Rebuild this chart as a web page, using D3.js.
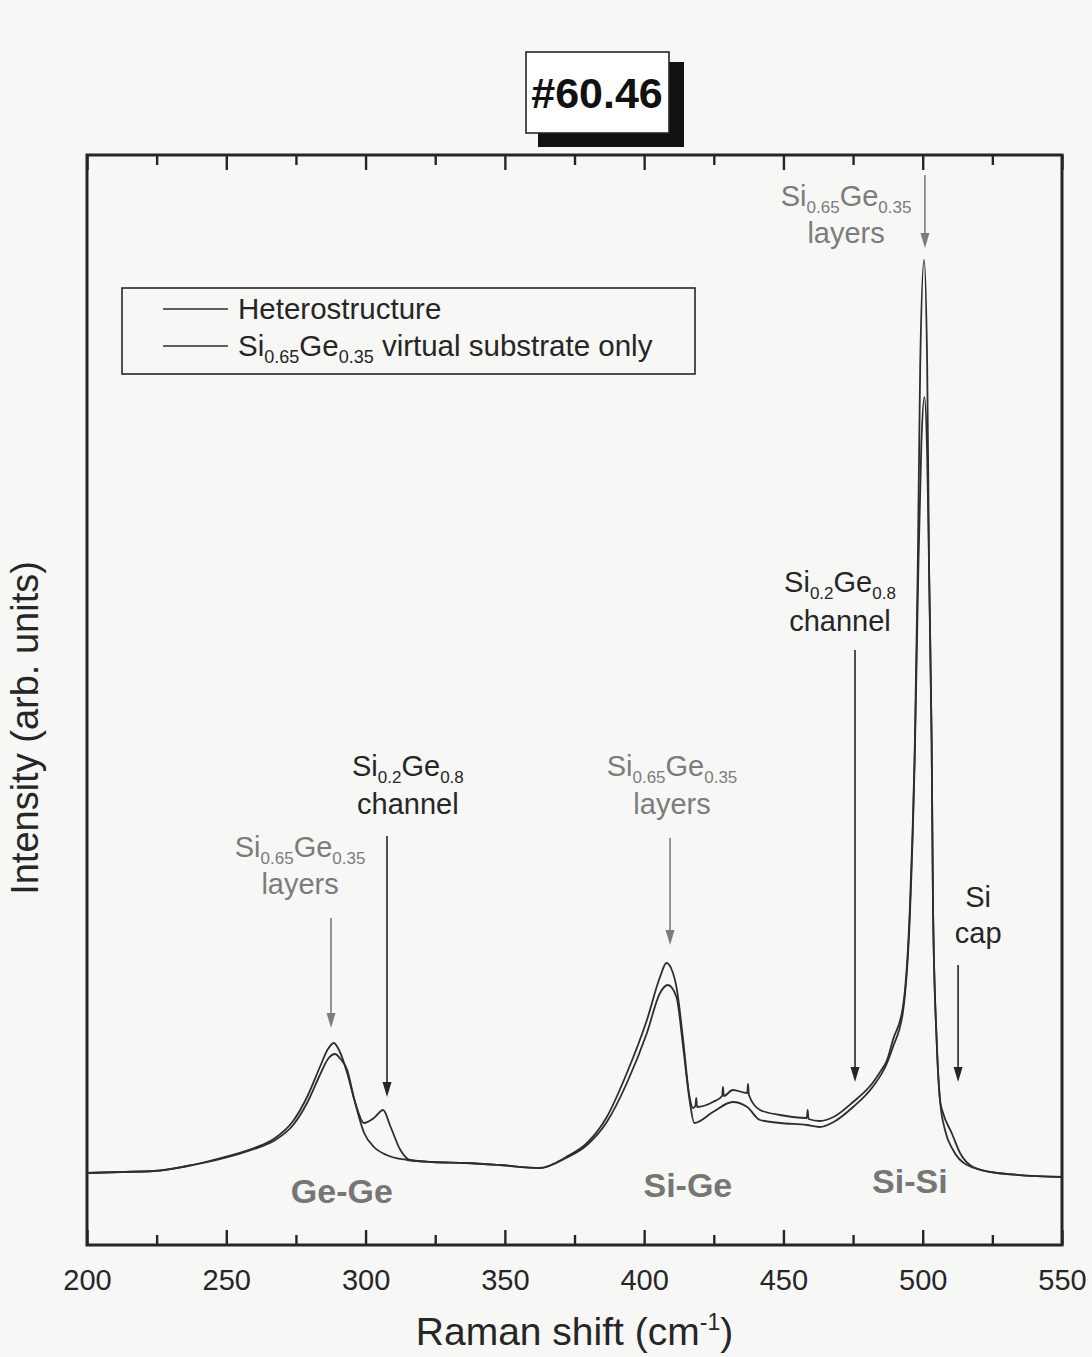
<!DOCTYPE html>
<html>
<head>
<meta charset="utf-8">
<script src="https://cdn.jsdelivr.net/npm/d3@7"></script>
<style>
  body { margin: 0; background: #f7f7f5; }
  svg { display: block; font-family: "Liberation Sans", Arial, sans-serif; }
</style>
</head>
<body>
<svg id="chart" width="1092" height="1357"></svg>
<script>
// Raman spectra (x = Raman shift cm-1, y = intensity, arb. units)
const heteroShift = [200, 212, 224, 236, 248, 260, 267, 274, 279, 283.6, 286.5, 288.6, 290.8, 293.4, 296,
  299.5, 303, 306.3, 309, 312.5, 316, 324, 336, 348, 362.5, 372, 379.5, 386.6, 393.8, 401, 405.7, 408,
  409.8, 411.6, 414, 416.3, 417.5, 418.4, 418.7, 419, 424.7, 428, 428.3, 428.6, 431.8, 437, 437.3, 437.6,
  441.6, 448.8, 458.4, 458.7, 459, 463, 468, 475, 482, 484.7, 487.2, 489.3, 492.9, 495.4, 497.2, 498.2,
  499.1, 500.5, 501.6, 502.3, 503.2, 503.7, 505, 506.2, 507.3, 510.4, 513.4, 518.1, 526.7, 550];
const heteroIntensity = [72, 73, 74, 79, 87, 97, 106, 124, 148, 178, 196, 202, 193, 172, 145,
  122, 127, 135, 118, 95, 85, 83, 82, 80, 77, 88, 102, 128, 172, 225, 268, 282,
  276, 258, 205, 148, 137, 139, 147, 138, 143, 149, 158, 149, 155, 152, 161, 150,
  135, 130, 127, 135, 126, 124, 128, 143, 162, 173, 185, 205, 238, 338, 505, 672,
  880, 985, 880, 672, 505, 338, 205, 145, 132, 112, 92, 78, 72, 68];

const substrateShift = [200, 212, 224, 236, 248, 260, 267, 274, 279, 283.6, 286.5, 289, 291, 293.4, 296,
  299.5, 303, 307.5, 315, 324, 336, 348, 362.5, 372, 379.5, 386.6, 393.8, 401, 405.7, 408.5, 411.6, 414,
  416.3, 418, 424.7, 431.8, 437, 441.6, 448.8, 458.4, 463, 468, 475, 482, 487.2, 489.3, 492.9, 495.4,
  497.2, 498.4, 499.5, 500.6, 501.6, 502.3, 503.2, 503.7, 505, 506.2, 508, 510.9, 515.9, 526.7, 550];
const substrateIntensity = [72, 73, 74, 79, 86, 96, 104, 120, 142, 170, 186, 191, 186, 175, 145,
  112, 98, 90, 85, 83, 82, 80, 77, 87, 100, 123, 162, 212, 252, 260, 248, 198,
  145, 122, 133, 143, 138, 125, 122, 120, 118, 123, 138, 158, 182, 198, 233, 330,
  495, 672, 800, 848, 790, 672, 505, 338, 205, 145, 115, 95, 80, 72, 68];

const majorTicks = [200, 250, 300, 350, 400, 450, 500, 550];
const minorTicks = [225, 275, 325, 375, 425, 475, 525];
const legendNames = ["Heterostructure", "Si0.65Ge0.35 virtual substrate only"];

// peak annotations: text lines, label centre, arrow position (x in cm-1, y in intensity)
const annotations = [
  { lines: [[["Si", 0], ["0.65", 1], ["Ge", 0], ["0.35", 1]], [["layers", 0]]], gray: true,
    lx: 276.5, ly: [388, 351], ax: 287.6, aTop: 327, aTip: 217 },
  { lines: [[["Si", 0], ["0.2", 1], ["Ge", 0], ["0.8", 1]], [["channel", 0]]], gray: false,
    lx: 315.2, ly: [469, 431], ax: 307.7, aTop: 409, aTip: 148 },
  { lines: [[["Si", 0], ["0.65", 1], ["Ge", 0], ["0.35", 1]], [["layers", 0]]], gray: true,
    lx: 410, ly: [469, 431], ax: 409.3, aTop: 407, aTip: 300 },
  { lines: [[["Si", 0], ["0.2", 1], ["Ge", 0], ["0.8", 1]], [["channel", 0]]], gray: false,
    lx: 470.3, ly: [653, 614], ax: 475.7, aTop: 595, aTip: 163 },
  { lines: [[["Si", 0], ["0.65", 1], ["Ge", 0], ["0.35", 1]], [["layers", 0]]], gray: true,
    lx: 472.5, ly: [1039, 1002], ax: 500.8, aTop: 1070, aTip: 997 },
  { lines: [[["Si", 0]], [["cap", 0]]], gray: false,
    lx: 519.9, ly: [338, 302], ax: 512.7, aTop: 280, aTip: 163 }
];
const bondLabels = ["Ge-Ge", "Si-Ge", "Si-Si"];
const bondX = [291.5, 415.7, 495.4];
const bondY = [42, 48, 52];

const svg = d3.select("#chart"),
    width = +svg.attr("width"),
    height = +svg.attr("height");
const margin = { top: 155, right: 30, bottom: 112, left: 87 };

const x = d3.scaleLinear().domain([200, 550]).range([margin.left, width - margin.right]);
const y = d3.scaleLinear().domain([0, 1090]).range([height - margin.bottom, margin.top]);

const ink = "#262626", gray = "#7c7c7c";

svg.append("rect").attr("width", width).attr("height", height).attr("fill", "#f7f7f5");

// ticks, bottom and top, pointing inwards
function tickAxis(axis, vals, len, labels) {
    return axis.tickValues(vals).tickSize(-len).tickPadding(24)
        .tickFormat(labels ? d3.format("d") : "");
}
const gB = svg.append("g").attr("transform", "translate(0," + (height - margin.bottom) + ")");
gB.call(tickAxis(d3.axisBottom(x), majorTicks, 15, true));
gB.append("g").call(tickAxis(d3.axisBottom(x), minorTicks, 10, false));
const gT = svg.append("g").attr("transform", "translate(0," + margin.top + ")");
gT.call(tickAxis(d3.axisTop(x), majorTicks, 15, false));
gT.append("g").call(tickAxis(d3.axisTop(x), minorTicks, 10, false));
svg.selectAll(".domain").remove();
svg.selectAll(".tick line").attr("stroke", ink).attr("stroke-width", 2.4);
gB.selectAll(".tick text").attr("fill", ink).style("font-size", "29px");

// frame
svg.append("rect")
    .attr("x", margin.left).attr("y", margin.top)
    .attr("width", width - margin.left - margin.right)
    .attr("height", height - margin.top - margin.bottom)
    .attr("fill", "none").attr("stroke", ink).attr("stroke-width", 3);

// axis titles
const xt = svg.append("text")
    .attr("x", (margin.left + width - margin.right) / 2).attr("y", 1345)
    .attr("text-anchor", "middle").attr("fill", ink).style("font-size", "39px");
xt.append("tspan").text("Raman shift (cm");
xt.append("tspan").attr("dy", -15).style("font-size", "23px").text("-1");
xt.append("tspan").attr("dy", 15).text(")");

svg.append("text")
    .attr("transform", "translate(38,728) rotate(-90)")
    .attr("text-anchor", "middle").attr("fill", ink).style("font-size", "38px")
    .text("Intensity (arb. units)");

// spectra
const line = d3.line().x(d => x(d[0])).y(d => y(d[1])).curve(d3.curveMonotoneX);
const series = [
    d3.zip(heteroShift, heteroIntensity),
    d3.zip(substrateShift, substrateIntensity)
];
svg.append("g").selectAll("path")
    .data(series)
    .enter()
    .append("path")
    .attr("d", line)
    .attr("fill", "none")
    .attr("stroke", "#2e2e2e")
    .attr("stroke-width", 1.8)
    .attr("stroke-linejoin", "round");

// chemical formula with subscripts
function formula(text, parts, subSize) {
    parts.forEach(function (p, i) {
        const prevSub = i > 0 && parts[i - 1][1];
        const t = text.append("tspan").text(p[0]);
        if (p[1]) {
            t.attr("dy", 7).style("font-size", subSize);
        } else if (prevSub) {
            t.attr("dy", -7);
        }
    });
}

// legend
const legenda = svg.append("g");
legenda.append("rect")
    .attr("x", 122).attr("y", 288).attr("width", 573).attr("height", 86)
    .attr("fill", "none").attr("stroke", ink).attr("stroke-width", 1.6);
const itensLegenda = legenda.selectAll("g.item")
    .data(legendNames)
    .enter()
    .append("g")
    .attr("class", "item")
    .attr("transform", (d, i) => "translate(0," + (309 + i * 37) + ")");
itensLegenda.append("line")
    .attr("x1", 163).attr("x2", 228)
    .attr("stroke", "#2e2e2e").attr("stroke-width", 1.5);
itensLegenda.each(function (d, i) {
    const t = d3.select(this).append("text")
        .attr("x", 238).attr("y", 10)
        .attr("fill", ink).style("font-size", "29.5px");
    if (i === 0) {
        t.text(d);
    } else {
        formula(t, [["Si", 0], ["0.65", 1], ["Ge", 0], ["0.35", 1], [" virtual substrate only", 0]], "18px");
    }
});

// annotations
const notas = svg.append("g");
annotations.forEach(function (a) {
    const c = a.gray ? gray : ink;
    a.lines.forEach(function (parts, k) {
        const t = notas.append("text")
            .attr("x", x(a.lx)).attr("y", y(a.ly[k]))
            .attr("text-anchor", "middle").attr("fill", c)
            .style("font-size", "29px");
        formula(t, parts, "17px");
    });
    const ax = x(a.ax), tip = y(a.aTip);
    notas.append("line")
        .attr("x1", ax).attr("x2", ax)
        .attr("y1", y(a.aTop)).attr("y2", tip - 10)
        .attr("stroke", c).attr("stroke-width", 1.6);
    notas.append("path")
        .attr("d", "M" + (ax - 4.5) + "," + (tip - 15) + "L" + (ax + 4.5) + "," + (tip - 15) + "L" + ax + "," + tip + "Z")
        .attr("fill", c);
});

svg.append("g").selectAll("text")
    .data(bondLabels)
    .enter()
    .append("text")
    .attr("x", (d, i) => x(bondX[i]))
    .attr("y", (d, i) => y(bondY[i]))
    .attr("text-anchor", "middle")
    .attr("fill", "#767676")
    .style("font-size", "34px")
    .style("font-weight", "bold")
    .text(d => d);

// sample label box with shadow
svg.append("rect").attr("x", 538).attr("y", 62).attr("width", 146).attr("height", 85).attr("fill", "#111");
svg.append("rect").attr("x", 526).attr("y", 52).attr("width", 143).attr("height", 81)
    .attr("fill", "#fff").attr("stroke", ink).attr("stroke-width", 1.6);
svg.append("text")
    .attr("x", 597).attr("y", 108)
    .attr("text-anchor", "middle").attr("fill", "#111")
    .style("font-size", "43px").style("font-weight", "bold")
    .text("#60.46");
</script>
</body>
</html>
